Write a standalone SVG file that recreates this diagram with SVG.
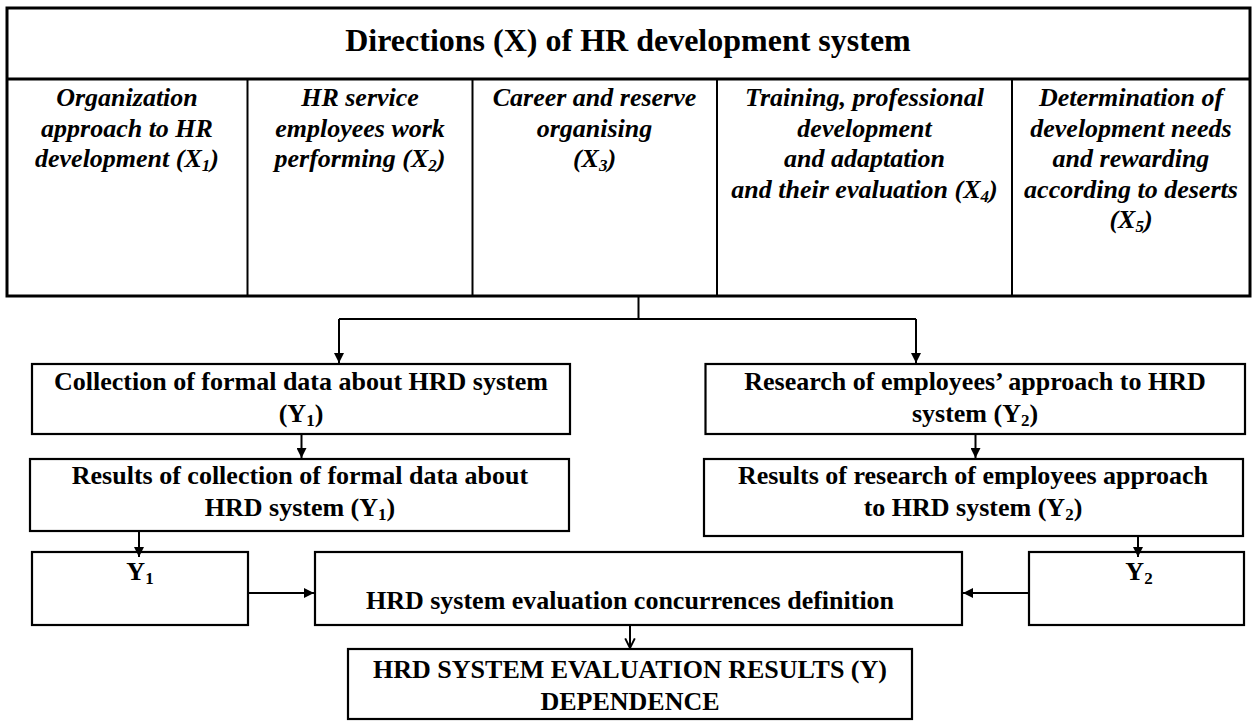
<svg xmlns="http://www.w3.org/2000/svg" width="1253" height="722" viewBox="0 0 1253 722">
<style>
.box{fill:#fff;stroke:#000;stroke-width:2.2}
.outer{fill:#fff;stroke:#000;stroke-width:3}
.div{stroke:#000;stroke-width:2}
.t{font-family:"Liberation Serif","Times New Roman",serif;font-weight:bold;font-size:26px;text-anchor:middle;fill:#000}
.ti{font-family:"Liberation Serif","Times New Roman",serif;font-weight:bold;font-style:italic;font-size:26px;text-anchor:middle;fill:#000}
.title{font-family:"Liberation Serif","Times New Roman",serif;font-weight:bold;font-size:32px;text-anchor:middle;fill:#000}
.c{fill:none;stroke:#000;stroke-width:2}
.sub{font-size:17px}
</style>
<defs>
<marker id="ah" viewBox="0 0 10 10" refX="10" refY="5" markerWidth="5" markerHeight="5" orient="auto" markerUnits="strokeWidth">
<path d="M0,0 L10,5 L0,10 z" fill="#000"/>
</marker>
<marker id="av" viewBox="0 0 10 10" refX="9" refY="5" markerWidth="6" markerHeight="6" orient="auto" markerUnits="strokeWidth">
<path d="M1,1 L9,5 L1,9" fill="none" stroke="#000" stroke-width="1.6"/>
</marker>
</defs>

<g id="directions">
<rect class="outer" x="7" y="8" width="1243" height="288"/>
<line class="outer" x1="7" y1="79" x2="1250" y2="79"/>
<line class="div" x1="247.5" y1="79" x2="247.5" y2="296"/>
<line class="div" x1="472.5" y1="79" x2="472.5" y2="296"/>
<line class="div" x1="717" y1="79" x2="717" y2="296"/>
<line class="div" x1="1012" y1="79" x2="1012" y2="296"/>
<text class="title" x="628" y="51">Directions (X) of HR development system</text>
</g>

<g id="x1">
<text class="ti" x="127" y="106">Organization</text>
<text class="ti" x="127" y="136.5">approach to HR</text>
<text class="ti" x="127" y="167">development (X<tspan class="sub" dy="4">1</tspan><tspan dy="-4">)</tspan></text>
</g>
<g id="x2">
<text class="ti" x="360" y="106">HR service</text>
<text class="ti" x="360" y="136.5">employees work</text>
<text class="ti" x="360" y="167">performing (X<tspan class="sub" dy="4">2</tspan><tspan dy="-4">)</tspan></text>
</g>
<g id="x3">
<text class="ti" x="594.5" y="106">Career and reserve</text>
<text class="ti" x="594.5" y="136.5">organising</text>
<text class="ti" x="594.5" y="167">(X<tspan class="sub" dy="4">3</tspan><tspan dy="-4">)</tspan></text>
</g>
<g id="x4">
<text class="ti" x="864.5" y="106">Training, professional</text>
<text class="ti" x="864.5" y="136.5">development</text>
<text class="ti" x="864.5" y="167">and adaptation</text>
<text class="ti" x="864.5" y="197.5">and their evaluation (X<tspan class="sub" dy="4">4</tspan><tspan dy="-4">)</tspan></text>
</g>
<g id="x5">
<text class="ti" x="1131" y="106">Determination of</text>
<text class="ti" x="1131" y="136.5">development needs</text>
<text class="ti" x="1131" y="167">and rewarding</text>
<text class="ti" x="1131" y="197.5">according to deserts</text>
<text class="ti" x="1131" y="228">(X<tspan class="sub" dy="4">5</tspan><tspan dy="-4">)</tspan></text>
</g>

<g id="collection">
<rect class="box" x="32" y="364" width="538" height="70"/>
<text class="t" x="301" y="390">Collection of formal data about HRD system</text>
<text class="t" x="301" y="421.5">(Y<tspan class="sub" dy="4">1</tspan><tspan dy="-4">)</tspan></text>
</g>
<g id="research">
<rect class="box" x="705.5" y="364" width="539.5" height="70"/>
<text class="t" x="975" y="390">Research of employees’ approach to HRD</text>
<text class="t" x="975" y="421.5">system (Y<tspan class="sub" dy="4">2</tspan><tspan dy="-4">)</tspan></text>
</g>
<g id="results1">
<rect class="box" x="30" y="459" width="539" height="72"/>
<text class="t" x="300" y="484">Results of collection of formal data about</text>
<text class="t" x="300" y="516">HRD system (Y<tspan class="sub" dy="4">1</tspan><tspan dy="-4">)</tspan></text>
</g>
<g id="results2">
<rect class="box" x="704" y="459" width="539" height="77"/>
<text class="t" x="973" y="484">Results of research of employees approach</text>
<text class="t" x="973" y="516">to HRD system (Y<tspan class="sub" dy="4">2</tspan><tspan dy="-4">)</tspan></text>
</g>
<g id="y1">
<rect class="box" x="32" y="552" width="216" height="73"/>
<text class="t" x="140" y="580">Y<tspan class="sub" dy="4">1</tspan></text>
</g>
<g id="y2">
<rect class="box" x="1029" y="552" width="215" height="73"/>
<text class="t" x="1139" y="580">Y<tspan class="sub" dy="4">2</tspan></text>
</g>
<g id="concurrences">
<rect class="box" x="315" y="552" width="647" height="73"/>
<text class="t" x="630" y="609">HRD system evaluation concurrences definition</text>
</g>
<g id="final">
<rect class="box" x="348" y="649" width="564" height="70"/>
<text class="t" x="630" y="678">HRD SYSTEM EVALUATION RESULTS (Y)</text>
<text class="t" x="630" y="710">DEPENDENCE</text>
</g>

<g id="connectors">
<path class="c" d="M638.5,296 V319"/>
<path class="c" d="M339,319 H916"/>
<path class="c" d="M339,319 V363" marker-end="url(#ah)"/>
<path class="c" d="M916,319 V363" marker-end="url(#ah)"/>
<path class="c" d="M301.5,434 V458" marker-end="url(#ah)"/>
<path class="c" d="M975.5,434 V458" marker-end="url(#ah)"/>
<path class="c" d="M139,531 V557" marker-end="url(#ah)"/>
<path class="c" d="M1138,536 V557" marker-end="url(#ah)"/>
<path class="c" d="M248,593 H314" marker-end="url(#ah)"/>
<path class="c" d="M1029,593 H963" marker-end="url(#ah)"/>
<path class="c" d="M630,625 V648" marker-end="url(#av)"/>
</g>
</svg>
